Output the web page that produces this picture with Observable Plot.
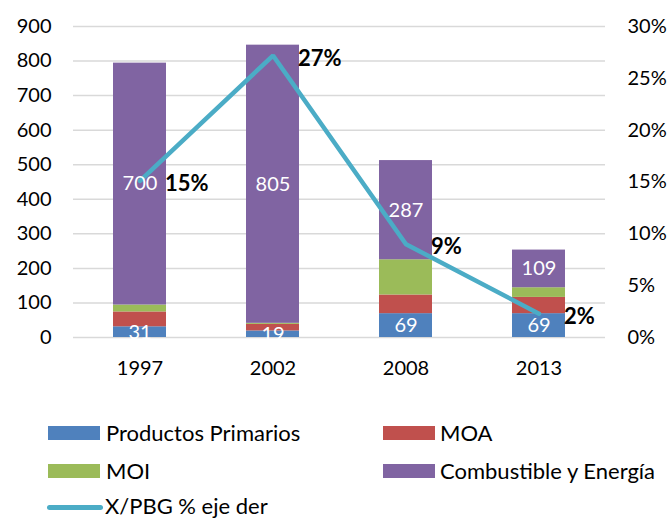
<!DOCTYPE html>
<html><head><meta charset="utf-8">
<script src="https://cdn.jsdelivr.net/npm/d3@7"></script>
<script src="https://cdn.jsdelivr.net/npm/@observablehq/plot@0.6"></script>
<style>
body{margin:0;background:#fff;font-family:Lato,sans-serif;}
#wrap{position:relative;width:669px;height:518px;overflow:hidden;background:#fff}
#chart svg{display:block}
.lg{position:absolute;font-size:22px;line-height:24px;color:#000;white-space:nowrap}
.sw{position:absolute;height:14px;width:52px}
.ln{position:absolute;height:5px;width:56px;border-radius:3px}
</style></head><body><div id="wrap"><div id="chart"></div><div id="legend"></div></div>
<script>
const years = ["1997", "2002", "2008", "2013"];
const seriesNames = ["Productos Primarios", "MOA", "MOI", "Combustible y Energía"];
const productosPrimarios = [31, 19, 69, 69];
const moa = [43, 19, 54, 47];
const moi = [20, 3, 102, 28];
const combustible = [700, 805, 287, 109];
const labeledSeries = ["Productos Primarios", "Combustible y Energía"];
const lineName = "X/PBG % eje der";
const xPbg = [0.151, 0.272, 0.09, 0.023];
const pctLabels = ["15%", "27%", "9%", "2%"];
const leftTicks = [0, 100, 200, 300, 400, 500, 600, 700, 800, 900];
const rightTicks = [0, 0.05, 0.10, 0.15, 0.20, 0.25, 0.30];
const colors = ["#4f81bd", "#c0504d", "#9bbb59", "#8064a2"];
const lineColor = "#4bacc6";

const seriesValues = [productosPrimarios, moa, moi, combustible];
const table = [];
years.forEach((year, i) => {
  seriesNames.forEach((s, j) => table.push({year, series: s, value: seriesValues[j][i]}));
});
const k = 900 / 0.30; // right axis mapped to left scale
const lineTable = years.map((year, i) => ({year, pct: xPbg[i], label: pctLabels[i]}));

const chart = Plot.plot({
  width: 669,
  height: 395,
  marginLeft: 73,
  marginRight: 64,
  marginTop: 26,
  marginBottom: 58,
  style: {fontFamily: "Lato, sans-serif", fontSize: "20px", color: "#000", background: "#fff"},
  x: {domain: years, paddingInner: 0.6, paddingOuter: 0.3, label: null},
  y: {domain: [0, 900], label: null},
  color: {domain: seriesNames, range: colors},
  marks: [
    Plot.gridY(leftTicks, {stroke: "#d9d9d9", strokeOpacity: 1, strokeWidth: 1.5}),
    Plot.barY(table, {x: "year", y: "value", fill: "series", order: seriesNames}),
    Plot.line(lineTable, {x: "year", y: d => d.pct * k, stroke: lineColor, strokeWidth: 4.5, strokeLinejoin: "miter"}),
    Plot.text(table, Plot.stackY({
      x: "year", y: "value", z: "series", order: seriesNames,
      text: d => labeledSeries.includes(d.series) ? String(d.value) : null,
      fill: "white", fontSize: 20
    })),
    Plot.text(lineTable, {x: "year", y: d => d.pct * k, text: "label", dx: 25, dy: 3, textAnchor: "start", fontWeight: "bold", fontSize: 22, fill: "#000"}),
    Plot.axisY(leftTicks, {anchor: "left", tickSize: 0, tickPadding: 22, fontSize: 20, label: null}),
    Plot.axisY(rightTicks.map(t => t * k), {anchor: "right", tickSize: 0, tickPadding: 22, fontSize: 20, label: null, tickFormat: d => Math.round(d / k * 100) + "%"}),
    Plot.axisX({tickSize: 0, tickPadding: 23, fontSize: 20, label: null})
  ]
});
document.getElementById("chart").appendChild(chart);

// legend
const legend = document.getElementById("legend");
const positions = [
  {sx: 48, tx: 106, cy: 433},
  {sx: 383, tx: 440, cy: 433},
  {sx: 48, tx: 106, cy: 471},
  {sx: 383, tx: 440, cy: 471}
];
seriesNames.forEach((s, i) => {
  const p = positions[i];
  const sw = document.createElement("div");
  sw.className = "sw";
  sw.style.left = p.sx + "px";
  sw.style.top = (p.cy - 7) + "px";
  sw.style.background = colors[i];
  legend.appendChild(sw);
  const t = document.createElement("div");
  t.className = "lg";
  t.style.left = p.tx + "px";
  t.style.top = (p.cy - 12) + "px";
  t.textContent = s;
  legend.appendChild(t);
});
const ln = document.createElement("div");
ln.className = "ln";
ln.style.left = "47px";
ln.style.top = (507 - 2.5) + "px";
ln.style.background = lineColor;
legend.appendChild(ln);
const lt = document.createElement("div");
lt.className = "lg";
lt.style.left = "105px";
lt.style.top = (507 - 13) + "px";
lt.textContent = lineName;
legend.appendChild(lt);
</script>
</body></html>
